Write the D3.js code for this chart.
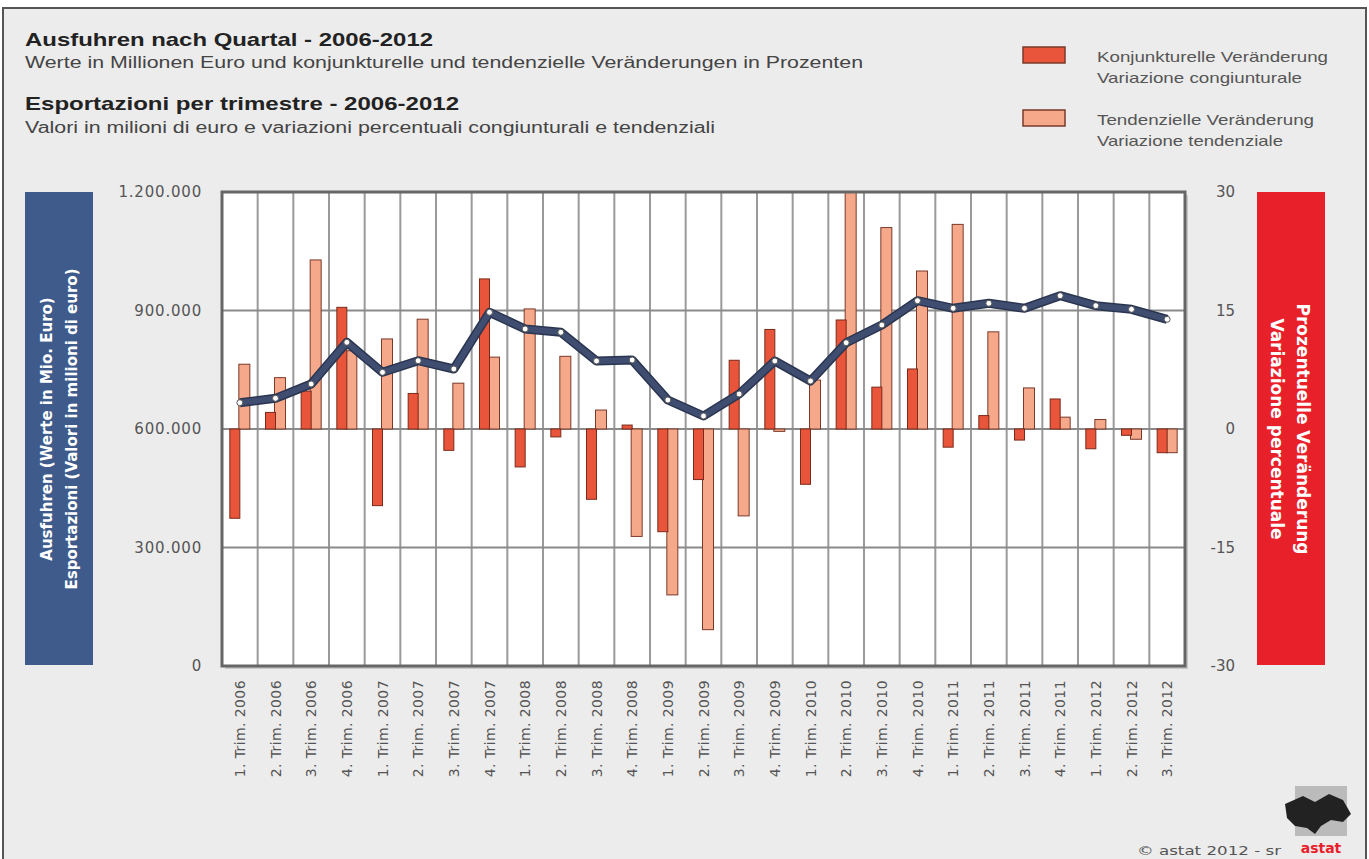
<!DOCTYPE html>
<html>
<head>
<meta charset="utf-8">
<script src="https://cdn.jsdelivr.net/npm/d3@7"></script>
<style>
  body { margin: 0; background: #fff; }
  svg { display: block; font-family: "DejaVu Sans", "Liberation Sans", Arial, sans-serif; }
</style>
</head>
<body>
<div id="chart"></div>
<script>
// quarters 2006 Q1 .. 2012 Q3
var quarters = ["1. Trim. 2006", "2. Trim. 2006", "3. Trim. 2006", "4. Trim. 2006",
    "1. Trim. 2007", "2. Trim. 2007", "3. Trim. 2007", "4. Trim. 2007",
    "1. Trim. 2008", "2. Trim. 2008", "3. Trim. 2008", "4. Trim. 2008",
    "1. Trim. 2009", "2. Trim. 2009", "3. Trim. 2009", "4. Trim. 2009",
    "1. Trim. 2010", "2. Trim. 2010", "3. Trim. 2010", "4. Trim. 2010",
    "1. Trim. 2011", "2. Trim. 2011", "3. Trim. 2011", "4. Trim. 2011",
    "1. Trim. 2012", "2. Trim. 2012", "3. Trim. 2012"];

// exports (left axis)
var exportsValues = [666600, 677700, 713900, 819500, 743500, 772900, 751900, 895400,
    853200, 844800, 772200, 774700, 673400, 632900, 688600, 772200,
    721500, 818500, 863300, 924800, 905600, 918200, 905600, 937500,
    912200, 903000, 877700];

// konjunkturelle Veränderung (%)
var konjunktur = [-11.3, 2.1, 4.8, 15.4, -9.7, 4.5, -2.7, 19.0,
    -4.8, -1.0, -8.9, 0.5, -13.0, -6.4, 8.7, 12.6,
    -7.0, 13.8, 5.3, 7.6, -2.3, 1.7, -1.4, 3.8,
    -2.5, -0.8, -3.0];

// tendenzielle Veränderung (%)
var tendenz = [8.2, 6.5, 21.4, 9.9, 11.4, 13.9, 5.8, 9.1,
    15.2, 9.2, 2.4, -13.6, -21.0, -25.4, -11.0, -0.3,
    6.2, 30.0, 25.5, 20.0, 25.9, 12.3, 5.2, 1.5,
    1.2, -1.3, -3.0];

var leftTicks = [0, 300000, 600000, 900000, 1200000];
var rightTicks = [-30, -15, 0, 15, 30];

var W = 1369, H = 859;
var plot = { left: 222, right: 1185, top: 192, bottom: 666 };

var svg = d3.select("#chart").append("svg")
    .attr("width", W)
    .attr("height", H);

// frame
svg.append("rect")
    .attr("x", 3).attr("y", 8)
    .attr("width", W - 6).attr("height", H - 7)
    .attr("fill", "#ececec")
    .attr("stroke", "#555")
    .attr("stroke-width", 2);

// titles (the original font is wide, so stretch to its width)
var titles = [
    { t: "Ausfuhren nach Quartal - 2006-2012", y: 46, bold: true, w: 408 },
    { t: "Werte in Millionen Euro und konjunkturelle und tendenzielle Veränderungen in Prozenten", y: 68, bold: false, w: 838 },
    { t: "Esportazioni per trimestre - 2006-2012", y: 110, bold: true, w: 434 },
    { t: "Valori in milioni di euro e variazioni percentuali congiunturali e tendenziali", y: 133, bold: false, w: 690 }
];
svg.selectAll(".title")
    .data(titles)
    .enter().append("text")
    .attr("x", 25)
    .attr("y", function(d) { return d.y; })
    .attr("textLength", function(d) { return d.w; })
    .attr("lengthAdjust", "spacingAndGlyphs")
    .style("font-family", "'Liberation Sans', Arial, sans-serif")
    .style("font-size", function(d) { return d.bold ? "19px" : "16px"; })
    .style("font-weight", function(d) { return d.bold ? "bold" : "normal"; })
    .style("fill", function(d) { return d.bold ? "#222" : "#444"; })
    .text(function(d) { return d.t; });

// legend
var legend = [
    { c: "#e8553a", l1: "Konjunkturelle Veränderung", l2: "Variazione congiunturale", w1: 231, w2: 205, y: 47 },
    { c: "#f5a98a", l1: "Tendenzielle Veränderung", l2: "Variazione tendenziale", w1: 217, w2: 186, y: 110 }
];
var lg = svg.selectAll(".legend")
    .data(legend)
    .enter().append("g");
lg.append("rect")
    .attr("x", 1023).attr("y", function(d) { return d.y; })
    .attr("width", 42).attr("height", 16)
    .attr("fill", function(d) { return d.c; })
    .attr("stroke", "#7a3a2a").attr("stroke-width", 1.5);
lg.append("text")
    .attr("x", 1097).attr("y", function(d) { return d.y + 15; })
    .attr("textLength", function(d) { return d.w1; })
    .attr("lengthAdjust", "spacingAndGlyphs")
    .style("font-family", "'Liberation Sans', Arial, sans-serif")
    .style("font-size", "15px").style("fill", "#555")
    .text(function(d) { return d.l1; });
lg.append("text")
    .attr("x", 1097).attr("y", function(d) { return d.y + 36; })
    .attr("textLength", function(d) { return d.w2; })
    .attr("lengthAdjust", "spacingAndGlyphs")
    .style("font-family", "'Liberation Sans', Arial, sans-serif")
    .style("font-size", "15px").style("fill", "#555")
    .text(function(d) { return d.l2; });

// scales
var x = d3.scaleBand().domain(quarters).range([plot.left, plot.right]).padding(0);
var yL = d3.scaleLinear().domain([0, 1200000]).range([plot.bottom, plot.top]);
var yR = d3.scaleLinear().domain([-30, 30]).range([plot.bottom, plot.top]);
var fmt = d3.formatLocale({ decimal: ",", thousands: ".", grouping: [3], currency: ["", "€"] }).format(",");

// plot background with a soft shadow
svg.append("rect")
    .attr("x", plot.left + 3).attr("y", plot.top + 3)
    .attr("width", plot.right - plot.left).attr("height", plot.bottom - plot.top)
    .attr("fill", "#c8c8c8");
svg.append("rect")
    .attr("x", plot.left).attr("y", plot.top)
    .attr("width", plot.right - plot.left).attr("height", plot.bottom - plot.top)
    .attr("fill", "#fff");

// vertical grid lines between quarters
svg.selectAll(".vgrid")
    .data(quarters.slice(1))
    .enter().append("line")
    .attr("x1", function(d) { return x(d); })
    .attr("x2", function(d) { return x(d); })
    .attr("y1", plot.top).attr("y2", plot.bottom)
    .attr("stroke", "#9a9a9a").attr("stroke-width", 2);

// horizontal grid lines
svg.selectAll(".hgrid")
    .data(leftTicks.slice(1, 4))
    .enter().append("line")
    .attr("x1", plot.left).attr("x2", plot.right)
    .attr("y1", function(d) { return yL(d); })
    .attr("y2", function(d) { return yL(d); })
    .attr("stroke", "#8a8a8a").attr("stroke-width", 2);

// bars
var bw = 10;
svg.selectAll(".bar-t")
    .data(tendenz)
    .enter().append("rect")
    .attr("x", function(d, i) { return x(quarters[i]) + x.bandwidth() / 2 - 1; })
    .attr("y", function(d) { return yR(Math.max(0, d)); })
    .attr("width", bw + 1)
    .attr("height", function(d) { return Math.abs(yR(d) - yR(0)); })
    .attr("fill", "#f5a98a")
    .attr("stroke", "#7a3a2a").attr("stroke-width", 1);

svg.selectAll(".bar-k")
    .data(konjunktur)
    .enter().append("rect")
    .attr("x", function(d, i) { return x(quarters[i]) + x.bandwidth() / 2 - bw; })
    .attr("y", function(d) { return yR(Math.max(0, d)); })
    .attr("width", bw)
    .attr("height", function(d) { return Math.abs(yR(d) - yR(0)); })
    .attr("fill", "#e8553a")
    .attr("stroke", "#7a2a1a").attr("stroke-width", 1);

// plot border
svg.append("rect")
    .attr("x", plot.left).attr("y", plot.top)
    .attr("width", plot.right - plot.left).attr("height", plot.bottom - plot.top)
    .attr("fill", "none")
    .attr("stroke", "#666").attr("stroke-width", 3);

// exports line
var line = d3.line()
    .x(function(d, i) { return x(quarters[i]) + x.bandwidth() / 2; })
    .y(function(d) { return yL(d); });

svg.append("path")
    .datum(exportsValues)
    .attr("d", line)
    .attr("fill", "none")
    .attr("stroke", "#2a3550")
    .attr("stroke-width", 9)
    .attr("stroke-linejoin", "round");
svg.append("path")
    .datum(exportsValues)
    .attr("d", line)
    .attr("fill", "none")
    .attr("stroke", "#3f4d70")
    .attr("stroke-width", 6)
    .attr("stroke-linejoin", "round");

svg.selectAll(".dot")
    .data(exportsValues)
    .enter().append("circle")
    .attr("cx", function(d, i) { return x(quarters[i]) + x.bandwidth() / 2; })
    .attr("cy", function(d) { return yL(d); })
    .attr("r", 3)
    .attr("fill", "#fff")
    .attr("stroke", "#555").attr("stroke-width", 1);

// left axis labels
svg.selectAll(".ltick")
    .data(leftTicks)
    .enter().append("text")
    .attr("x", 202)
    .attr("y", function(d) { return yL(d) + 5; })
    .attr("text-anchor", "end")
    .style("font-size", "15px").style("fill", "#555")
    .style("letter-spacing", "0.8px")
    .text(function(d) { return fmt(d); });

// right axis labels
svg.selectAll(".rtick")
    .data(rightTicks)
    .enter().append("text")
    .attr("x", 1235)
    .attr("y", function(d) { return yR(d) + 5; })
    .attr("text-anchor", "end")
    .style("font-size", "15px").style("fill", "#555")
    .text(function(d) { return d; });

// x labels
svg.selectAll(".xlab")
    .data(quarters)
    .enter().append("text")
    .attr("transform", function(d) {
        return "translate(" + (x(d) + x.bandwidth() / 2 + 5) + "," + (plot.bottom + 14) + ") rotate(-90)";
    })
    .attr("text-anchor", "end")
    .style("font-size", "14px").style("fill", "#555")
    .style("letter-spacing", "0.4px")
    .text(function(d) { return d; });

// side boxes
svg.append("rect")
    .attr("x", 25).attr("y", plot.top)
    .attr("width", 68).attr("height", plot.bottom - plot.top - 1)
    .attr("fill", "#3e5b8c");
var lt = svg.append("text")
    .attr("transform", "translate(59," + ((plot.top + plot.bottom) / 2) + ") rotate(-90)")
    .attr("text-anchor", "middle")
    .style("font-size", "15px").style("font-weight", "bold").style("fill", "#fff");
lt.append("tspan").attr("x", 0).attr("dy", -7).text("Ausfuhren (Werte in Mio. Euro)");
lt.append("tspan").attr("x", 0).attr("dy", 25).text("Esportazioni (Valori in milioni di euro)");

svg.append("rect")
    .attr("x", 1257).attr("y", plot.top)
    .attr("width", 68).attr("height", plot.bottom - plot.top - 1)
    .attr("fill", "#e8202a");
var rt = svg.append("text")
    .attr("transform", "translate(1291," + ((plot.top + plot.bottom) / 2) + ") rotate(90)")
    .attr("text-anchor", "middle")
    .style("font-size", "17px").style("font-weight", "bold").style("fill", "#fff");
rt.append("tspan").attr("x", 0).attr("dy", -6).text("Prozentuelle Veränderung");
rt.append("tspan").attr("x", 0).attr("dy", 26).text("Variazione percentuale");

// footer
svg.append("text")
    .attr("x", 1137).attr("y", 855)
    .attr("textLength", 144)
    .attr("lengthAdjust", "spacingAndGlyphs")
    .style("font-size", "13px").style("fill", "#555")
    .text("© astat 2012 - sr");

// logo
var logo = svg.append("g").attr("transform", "translate(1285,792)");
logo.append("rect")
    .attr("x", 10).attr("y", -6).attr("width", 52).attr("height", 50)
    .attr("fill", "#bbb");
logo.append("path")
    .attr("d", "M0,12 L18,4 L30,10 L44,2 L58,8 L66,22 L58,30 L46,28 L36,34 L30,42 L22,36 L10,34 L2,26 Z")
    .attr("fill", "#222");
logo.append("text")
    .attr("x", 36).attr("y", 61)
    .attr("text-anchor", "middle")
    .style("font-size", "14px").style("font-weight", "bold").style("fill", "#e8202a")
    .text("astat");
</script>
</body>
</html>
